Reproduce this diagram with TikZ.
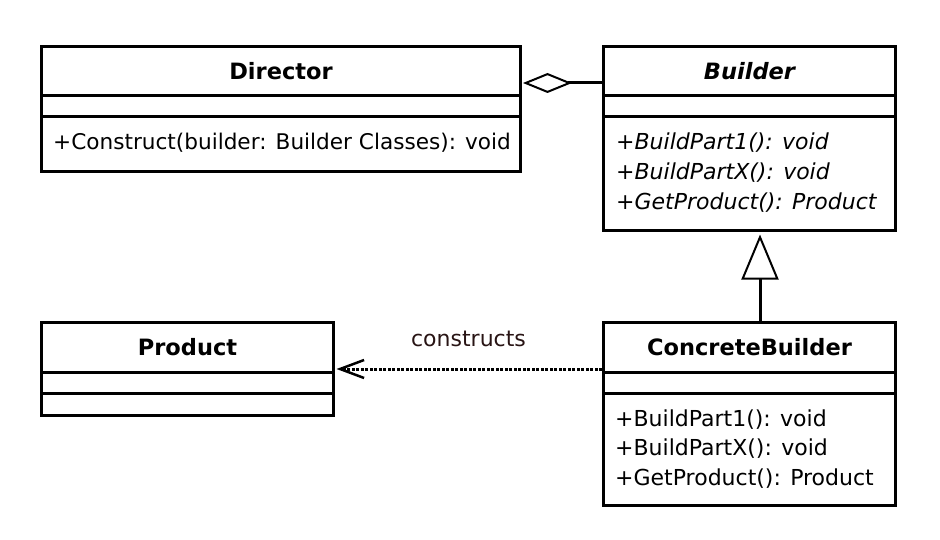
\documentclass[tikz,border=0pt]{standalone}
\usepackage{fontspec}
\setmainfont{DejaVu Sans}
\usetikzlibrary{arrows.meta}
\definecolor{labelcol}{RGB}{40,20,20}
\begin{document}
\begin{tikzpicture}[x=1pt,y=-1pt,
  cls/.style={draw, line width=3pt, rectangle, inner sep=0pt, anchor=north west, minimum width=292pt},
  sep/.style={line width=3pt},
  title/.style={font=\fontsize{22.5}{27}\selectfont\bfseries, inner sep=0pt},
  meth/.style={font=\fontsize{22}{26}\selectfont, inner sep=0pt, anchor=base west},
  conn/.style={line width=3pt},
]
\useasboundingbox (0,0) rectangle (940,540);
% classes
\node[cls, minimum width=479pt, minimum height=125pt] (d) at (40,45) {};
\node[cls, minimum height=184pt] (b) at (602,45) {};
\node[cls, minimum height=93pt] (p) at (40,321) {};
\node[cls, minimum height=183pt] (c) at (602,321) {};
% separators
\foreach \n in {d,b,p,c}{
  \draw[sep] ([yshift=-51pt]\n.north west) -- ([yshift=-51pt]\n.north east);
  \draw[sep] ([yshift=-72pt]\n.north west) -- ([yshift=-72pt]\n.north east);
}
% titles
\node[title] (dt) at ([yshift=-26pt]d.north) {Director};
\node[title] (bt) at ([yshift=-26pt]b.north) {\itshape Builder};
\node[title] (pt) at ([yshift=-26pt]p.north) {Product};
\node[title] (ct) at ([yshift=-26pt]c.north) {ConcreteBuilder};
% methods
\node[meth, font=\fontsize{21.6}{26}\selectfont] (d1) at ([xshift=13pt,yshift=-105pt]d.north west) {+Construct(builder: Builder Classes): void};
\node[meth] (b1) at ([xshift=14pt,yshift=-105pt]b.north west) {\itshape +BuildPart1(): void};
\node[meth] (b2) at ([xshift=14pt,yshift=-135pt]b.north west) {\itshape +BuildPartX(): void};
\node[meth] (b3) at ([xshift=14pt,yshift=-165pt]b.north west) {\itshape +GetProduct(): Product};
\node[meth] (c1) at ([xshift=13pt,yshift=-105pt]c.north west) {+BuildPart1(): void};
\node[meth] (c2) at ([xshift=13pt,yshift=-134.5pt]c.north west) {+BuildPartX(): void};
\node[meth] (c3) at ([xshift=13pt,yshift=-164pt]c.north west) {+GetProduct(): Product};
% connectors
\coordinate (agg) at (0,83);
\draw[conn, -{Diamond[open,length=49pt,width=20pt,line width=2pt,fill=white]}, shorten >=1pt]
  (b.west |- agg) -- (d.east |- agg);
\coordinate (gen) at (760,0);
\draw[conn, -{Triangle[open,length=45pt,width=37pt,line width=2pt,fill=white]}, shorten >=2.5pt]
  (gen |- c.north) -- (gen |- b.south);
\coordinate (dep) at (0,369);
\draw[conn, dash pattern=on 3pt off 1.5pt, -{Straight Barb[length=24pt,width=18pt,line width=2.5pt]}, shorten >=1.5pt]
  (c.west |- dep) -- (p.east |- dep) node[pos=0.5, above=21pt, font=\fontsize{22}{26}\selectfont, text=labelcol, inner sep=0pt] (lbl) {constructs};
\end{tikzpicture}
\end{document}
